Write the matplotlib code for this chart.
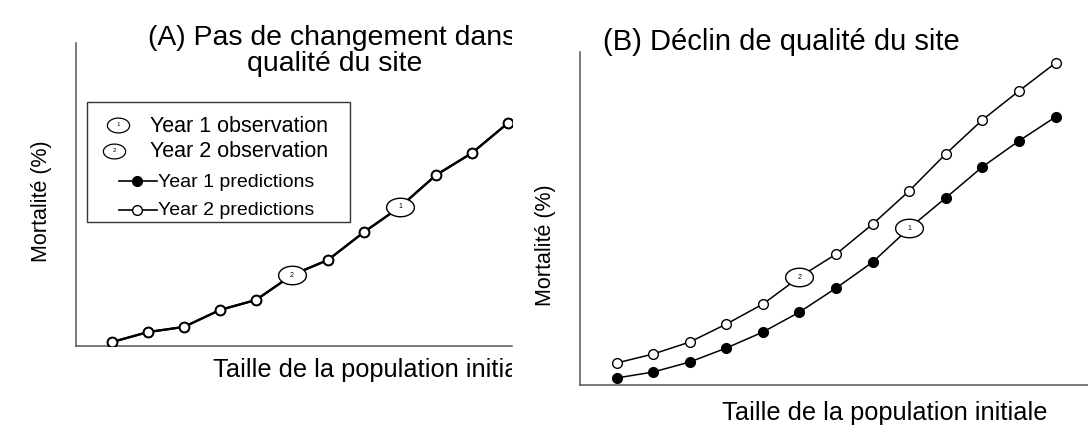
import matplotlib
matplotlib.use("Agg")
import matplotlib.pyplot as plt
from matplotlib.patches import Rectangle
from matplotlib.path import Path
from matplotlib.lines import Line2D
import numpy as np

plt.rcParams['font.family'] = ['Liberation Sans', 'DejaVu Sans']

W, H = 1088, 432

# Panel A: predictions are the same both years
a_x = [1, 2, 3, 4, 5, 6, 7, 8, 9, 10, 11, 12]
a_pred = [1.3, 4.6, 6.3, 11.9, 15.2, 23.4, 28.4, 37.6, 45.9, 56.4, 63.7, 73.6]
a_obs_x = [9, 6]
a_obs_y = [45.9, 23.4]
a_obs_lbl = ["1", "2"]

# Panel B: site quality declines, year 2 predictions sit above year 1
b_x = [1, 2, 3, 4, 5, 6, 7, 8, 9, 10, 11, 12, 13]
b_year1 = [2.1, 3.9, 6.9, 11.1, 15.9, 21.9, 29.1, 36.9, 47.1, 56.2, 65.5, 73.3, 80.5]
b_year2 = [6.6, 9.3, 12.9, 18.3, 24.3, 32.4, 39.3, 48.3, 58.3, 69.4, 79.6, 88.3, 96.7]
b_obs_x = [9, 6]
b_obs_y = [47.1, 32.4]
b_obs_lbl = ["1", "2"]

ylab = "Mortalité (%)"
xlab = "Taille de la population initiale"

# ellipse marker for the observations
t = np.linspace(0, 2 * np.pi, 60)
ellipse = Path(np.column_stack([1.5 * np.cos(t), np.sin(t)]))


def fx(px):
    return px / W


def fy(py):
    return 1 - py / H


def setup(ax):
    for s in ["top", "right"]:
        ax.spines[s].set_visible(False)
    for s in ["left", "bottom"]:
        ax.spines[s].set_color("#555555")
        ax.spines[s].set_linewidth(1.1)
    ax.set_xticks([])
    ax.set_yticks([])
    ax.set_ylim(0, 100)


def obs(ax, xs, ys, lbls, size):
    ax.plot(xs, ys, ls="none", marker=ellipse, ms=size, mfc="white",
            mec="black", mew=1.0, zorder=5)
    for x, y, s in zip(xs, ys, lbls):
        ax.text(x, y, s, fontsize=5, ha="center", va="center", zorder=6)


fig = plt.figure(figsize=(W / 100, H / 100), dpi=100)

# ---- panel A ----
axA = fig.add_axes([fx(76), fy(346), fx(512 - 76), (346 - 43) / H])
setup(axA)
axA.set_xlim(0, 436 / 36)
axA.plot(a_x, a_pred, "-o", color="black", lw=1.6, ms=7, mfc="black",
         mec="black", mew=1.2, zorder=3)
axA.plot(a_x, a_pred, "-o", color="black", lw=1.6, ms=7, mfc="white",
         mec="black", mew=1.4, zorder=4)
obs(axA, a_obs_x, a_obs_y, a_obs_lbl, 20)

clip = Rectangle((0, 0), fx(512), 1, transform=fig.transFigure)
tA1 = fig.text(fx(148), fy(45), "(A) Pas de changement dans la", fontsize=20.4,
               ha="left", va="baseline")
tA1.set_clip_path(clip)
fig.text(fx(335), fy(71), "qualité du site", fontsize=20.4, ha="center",
         va="baseline")
xA = fig.text(fx(213), fy(377), xlab, fontsize=18.3, ha="left", va="baseline")
xA.set_clip_path(clip)
fig.text(fx(42), fy(201), ylab, fontsize=15.5, rotation=90, ha="center",
         va="center")

# legend box drawn by hand in pixel positions
fig.add_artist(Rectangle((fx(87), fy(222)), fx(350 - 87), (222 - 102) / H,
                         transform=fig.transFigure, fill=False,
                         edgecolor="#333333", lw=1.0))
for (cx, cy, d, lbl, base) in [(118, 125, "1", "Year 1 observation", 132),
                               (114, 151, "2", "Year 2 observation", 157)]:
    fig.add_artist(Line2D([fx(cx)], [fy(cy)], transform=fig.transFigure,
                          marker=ellipse, ms=16, mfc="white", mec="black",
                          mew=0.9, ls="none"))
    fig.text(fx(cx), fy(cy), d, fontsize=4.5, ha="center", va="center")
    fig.text(fx(150), fy(base), lbl, fontsize=15.5, ha="left", va="baseline")
for (cy, fc, lbl, base) in [(181, "black", "Year 1 predictions", 187),
                            (210, "white", "Year 2 predictions", 215)]:
    fig.add_artist(Line2D([fx(119), fx(157)], [fy(cy), fy(cy)],
                          transform=fig.transFigure, color="black", lw=1.2))
    fig.add_artist(Line2D([fx(137)], [fy(cy)], transform=fig.transFigure,
                          marker="o", ms=7, mfc=fc, mec="black", mew=1.0,
                          ls="none"))
    fig.text(fx(158), fy(base), lbl, fontsize=14, ha="left", va="baseline")

# ---- panel B ----
axB = fig.add_axes([fx(580), fy(385), fx(1088 - 580), (385 - 52) / H])
setup(axB)
axB.set_xlim(0, 508 / 36.58)
axB.plot(b_x, b_year1, "-o", color="black", lw=1.1, ms=7, mfc="black",
         mec="black", mew=1.0, zorder=3)
axB.plot(b_x, b_year2, "-o", color="black", lw=1.1, ms=7, mfc="white",
         mec="black", mew=1.0, zorder=3)
obs(axB, b_obs_x, b_obs_y, b_obs_lbl, 20)

fig.text(fx(603), fy(50), "(B) Déclin de qualité du site", fontsize=21,
         ha="left", va="baseline")
fig.text(fx(722), fy(420), xlab, fontsize=18.3, ha="left", va="baseline")
fig.text(fx(545), fy(245), ylab, fontsize=15.5, rotation=90, ha="center",
         va="center")

fig.savefig("out.png", dpi=100)
